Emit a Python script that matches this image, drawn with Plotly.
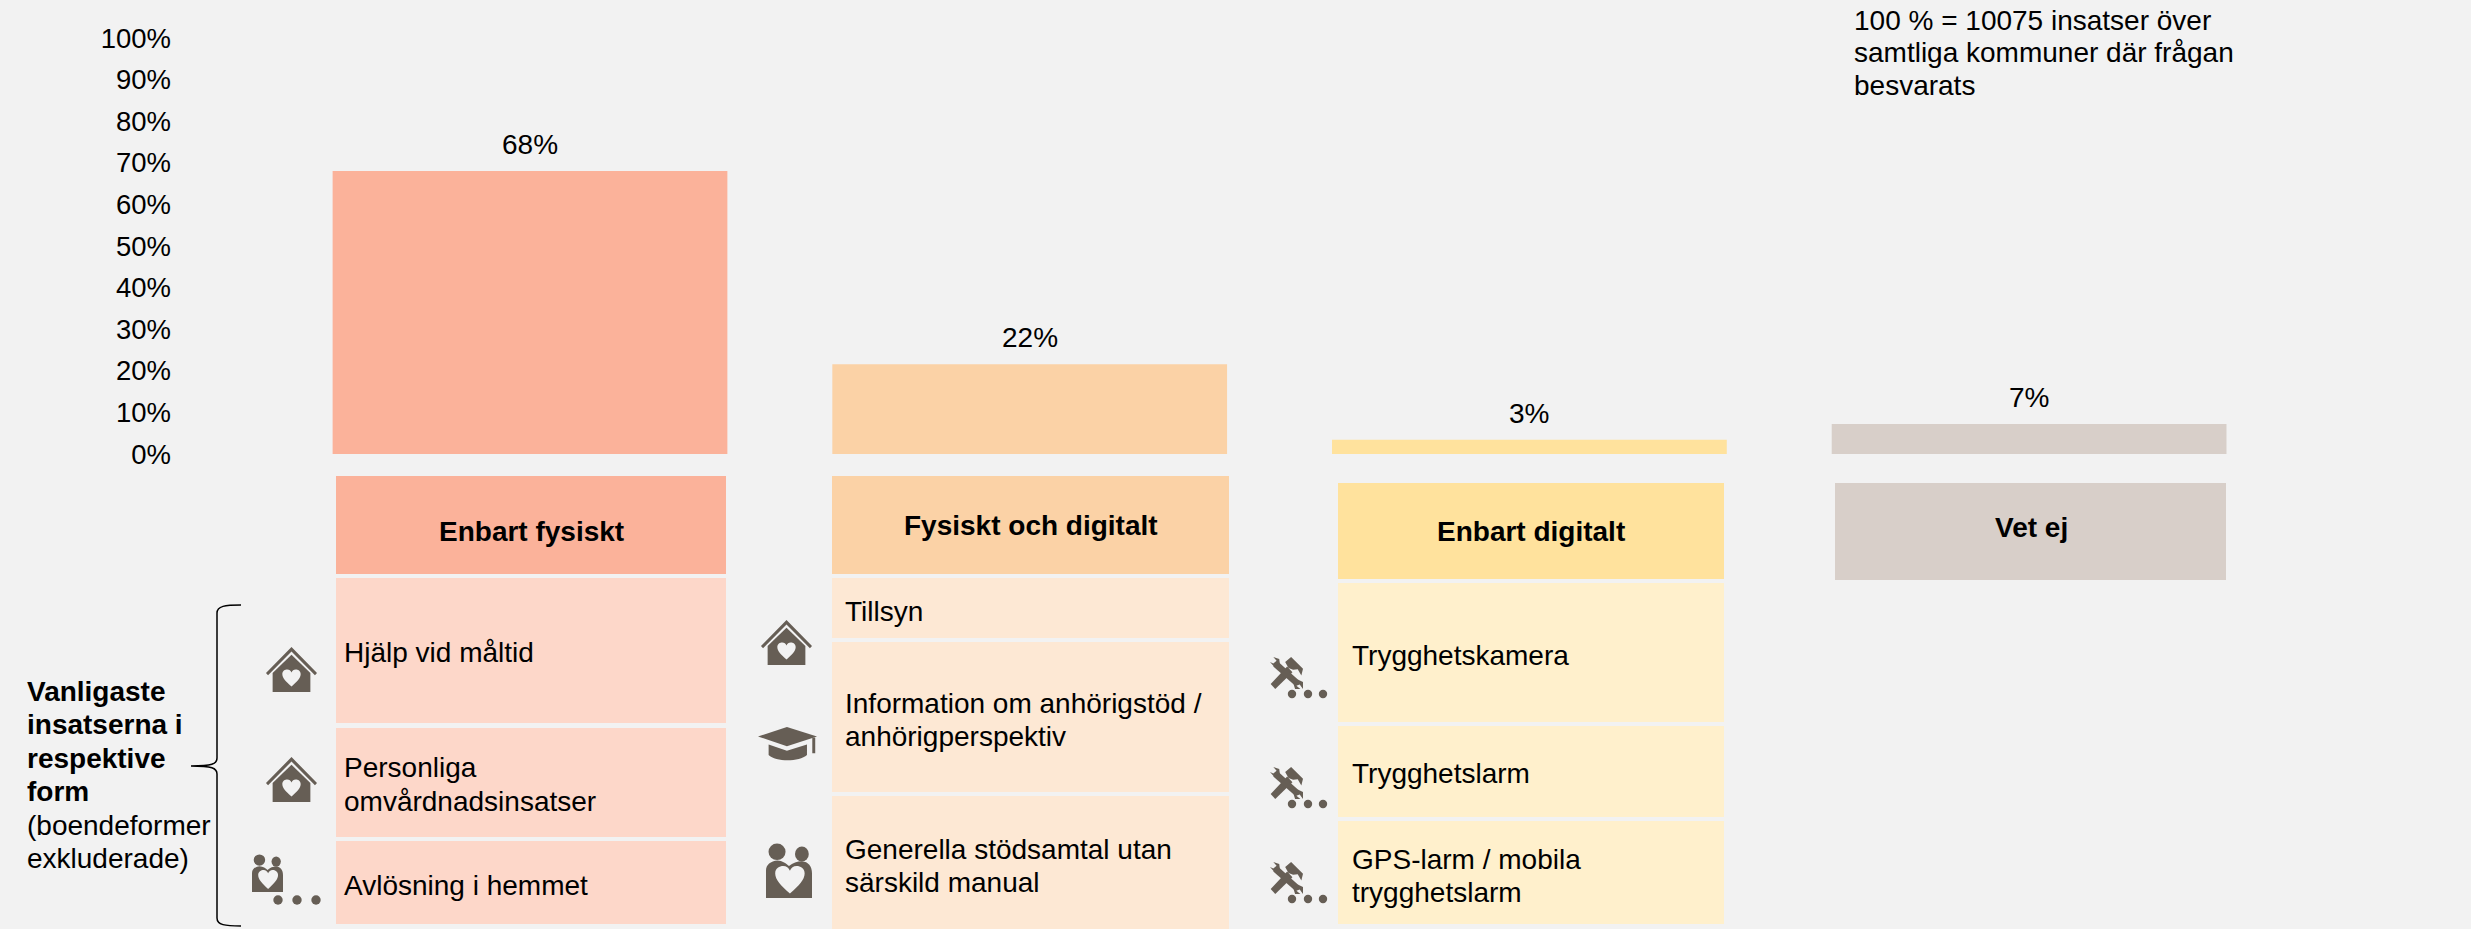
import re
import plotly.graph_objects as go

# ---------- data ----------
CATEGORIES = ["Enbart fysiskt", "Fysiskt och digitalt", "Enbart digitalt", "Vet ej"]
VALUES = [68.0, 21.6, 3.4, 7.2]
Y_TICKS = list(range(0, 101, 10))
Y_TICK_LABELS = [f"{v}%" for v in Y_TICKS]
BAR_COLORS = ["#FBB29A", "#FBD2A6", "#FFE29D", "#D8CFC9"]
CELL_COLORS = ["#FDD7C9", "#FDE8D4", "#FFF0CC"]
NOTE_LINES = ["100 % = 10075 insatser över", "samtliga kommuner där frågan", "besvarats"]
SIDE_BOLD = ["Vanligaste", "insatserna i", "respektive", "form"]
SIDE_PLAIN = ["(boendeformer", "exkluderade)"]
COL1_ITEMS = [["Hjälp vid måltid"], ["Personliga", "omvårdnadsinsatser"], ["Avlösning i hemmet"]]
COL2_ITEMS = [["Tillsyn"], ["Information om anhörigstöd /", "anhörigperspektiv"],
              ["Generella stödsamtal utan", "särskild manual"]]
COL3_ITEMS = [["Trygghetskamera"], ["Trygghetslarm"], ["GPS-larm / mobila", "trygghetslarm"]]

# ---------- layout helpers (pixel geometry of the slide) ----------
W, H = 2471, 929
LEFT = 172
BG = "#F2F2F2"
ICON = "#665E55"
FONT = "Liberation Sans"
FS = 28
LINE = 33.6


def px(x):
    return (x - LEFT) / (W - LEFT)


def py(y):
    return 1 - y / H


shapes = []
annotations = []


def rect(x0, y0, x1, y1, color):
    shapes.append(dict(type="rect", xref="paper", yref="paper", x0=px(x0), x1=px(x1),
                       y0=py(y1), y1=py(y0), fillcolor=color, line_width=0, layer="below"))


def text(x, y, s, bold=False, anchor="left", size=FS):
    annotations.append(dict(xref="paper", yref="paper", x=px(x), y=py(y), showarrow=False,
                            text=f"<b>{s}</b>" if bold else s, xanchor=anchor, yanchor="middle",
                            font=dict(family=FONT, size=size, color="#000000"),
                            borderpad=0, xshift=0))


def path(d, x0=0, y0=0, x1=1, y1=1, color=ICON):
    toks = re.findall(r"[MLCZ]|-?\d*\.?\d+", d)
    out, isx = [], True
    for t in toks:
        if t in "MLCZ":
            out.append(t)
            isx = True
        else:
            v = float(t)
            if isx:
                out.append(f"{px(x0 + v * (x1 - x0)):.6f},")
            else:
                out.append(f"{py(y0 + v * (y1 - y0)):.6f}")
            isx = not isx
    shapes.append(dict(type="path", xref="paper", yref="paper", path=" ".join(out), layer="above",
                       fillcolor=color, line_width=0))


def ellipse(cx, cy, rx, ry, color=ICON):
    shapes.append(dict(type="circle", xref="paper", yref="paper", x0=px(cx - rx), x1=px(cx + rx),
                       y0=py(cy + ry), y1=py(cy - ry), fillcolor=color, line_width=0, layer="above"))


HEART = ("M .5 1 C .2 .72 0 .5 0 .27 C 0 .08 .15 0 .27 0 C .38 0 .46 .07 .5 .17 "
         "C .54 .07 .62 0 .73 0 C .85 0 1 .08 1 .27 C 1 .5 .8 .72 .5 1 Z")


def house(x0, y0):
    w, h = 51, 45
    path("M .5 0 L 1 .58 L .96 .63 L .5 .1 L .04 .63 L 0 .58 Z", x0, y0, x0 + w, y0 + h)
    path("M .13 1 L .13 .58 L .5 .17 L .87 .58 L .87 1 Z", x0, y0, x0 + w, y0 + h)
    path(HEART, x0 + w * .32, y0 + h * .5, x0 + w * .68, y0 + h * .88, BG)


def people(x0, y0, x1, y1):
    w, h = x1 - x0, y1 - y0
    ellipse(x0 + .24 * w, y0 + .16 * h, .185 * w, .15 * h)
    ellipse(x0 + .78 * w, y0 + .2 * h, .15 * w, .135 * h)
    path("M 0 1 L 0 .5 C 0 .4 .1 .33 .25 .32 C .35 .32 .45 .38 .5 .42 C .58 .36 .68 .33 .78 .33 "
         "C .92 .34 1 .42 1 .55 L 1 1 Z", x0, y0, x1, y1)
    path(HEART, x0 + .2 * w, y0 + .42 * h, x0 + .84 * w, y0 + .92 * h, BG)


def cap(x0, y0, x1, y1):
    path("M 0 .27 L .49 0 L 1 .27 L .49 .55 Z", x0, y0, x1, y1)
    path("M .18 .5 L .49 .68 L .83 .5 L .83 .8 C .7 1 .3 1 .18 .8 Z", x0, y0, x1, y1)
    path("M .92 .3 L .97 .3 L .97 .75 L .92 .75 Z", x0, y0, x1, y1)


def tool(x0, y0):
    x1, y1 = x0 + 33, y0 + 32
    # hammer handle and head
    path("M .02 .84 L .16 1 L .68 .48 L .52 .3 Z", x0, y0, x1, y1)
    path("M .46 .16 L .64 0 L 1 .37 L .95 .58 L .84 .38 L .7 .4 L .56 .34 Z", x0, y0, x1, y1)
    # wrench handle and jaws
    path("M .24 .14 L .86 .72 L .72 .86 L .1 .3 Z", x0, y0, x1, y1)
    path("M 0 .16 L .12 .3 L .3 .22 L .28 .06 L .1 0 L .2 .12 L .1 .2 Z", x0, y0, x1, y1)
    path("M .7 .8 L .84 .7 L 1 .78 L 1 1 L .9 .86 L .8 .9 L .92 1 L .76 1 Z", x0, y0, x1, y1)


def dots(xs, y, r):
    for x in xs:
        ellipse(x, y, r, r)


def cell_lines(x, lines, ys):
    for s, y in zip(lines, ys):
        text(x, y, s)


# ---------- header boxes ----------
rect(336, 476, 726, 574, BAR_COLORS[0])
rect(832, 476, 1229, 574, BAR_COLORS[1])
rect(1338, 483, 1724, 579, BAR_COLORS[2])
rect(1835, 483, 2226, 580, BAR_COLORS[3])
text(531, 531, CATEGORIES[0], True, "center")
text(1031, 525, CATEGORIES[1], True, "center")
text(1531, 531, CATEGORIES[2], True, "center")
text(2031, 527, CATEGORIES[3], True, "center")

# ---------- table cells ----------
for y0, y1 in [(578, 723), (728, 837), (841, 924)]:
    rect(336, y0, 726, y1, CELL_COLORS[0])
for y0, y1 in [(578, 638), (642, 792), (796, 929)]:
    rect(832, y0, 1229, y1, CELL_COLORS[1])
for y0, y1 in [(583, 722), (726, 817), (821, 924)]:
    rect(1338, y0, 1724, y1, CELL_COLORS[2])

cell_lines(343, COL1_ITEMS[0], [652])
cell_lines(343, COL1_ITEMS[1], [767, 801])
cell_lines(343, COL1_ITEMS[2], [885])
cell_lines(844, COL2_ITEMS[0], [611])
cell_lines(844, COL2_ITEMS[1], [703, 736])
cell_lines(844, COL2_ITEMS[2], [849, 882])
cell_lines(1351, COL3_ITEMS[0], [655])
cell_lines(1351, COL3_ITEMS[1], [773])
cell_lines(1351, COL3_ITEMS[2], [859, 892])

# ---------- side text, note, brace ----------
for i, s in enumerate(SIDE_BOLD):
    text(26, 691 + i * LINE, s, True)
for i, s in enumerate(SIDE_PLAIN):
    text(26, 825 + i * LINE, s)
for i, s in enumerate(NOTE_LINES):
    text(1852.5, 20 + i * 33, s)

shapes.append(dict(type="path", xref="paper", yref="paper", layer="above",
                   line=dict(color="#000000", width=1.5),
                   path=(f"M {px(241)},{py(605)} C {px(225)},{py(605)} {px(217)},{py(606)} {px(217)},{py(613)} "
                         f"L {px(217)},{py(758)} C {px(217)},{py(764)} {px(212)},{py(766)} {px(191)},{py(766)} "
                         f"C {px(212)},{py(766)} {px(217)},{py(768)} {px(217)},{py(774)} "
                         f"L {px(217)},{py(918)} C {px(217)},{py(925)} {px(225)},{py(926)} {px(241)},{py(926)}")))

# ---------- icons ----------
house(266, 647)
house(266, 757)
people(252, 854, 283, 892)
dots([278, 297, 316], 900, 4.7)
house(761, 620)
cap(758, 727, 817, 762)
people(766, 843, 812, 898)
for ty in (657, 767, 862):
    tool(1270, ty)
    dots([1292, 1308, 1323], ty + 37, 4.2)

# ---------- value labels ----------
for c, v in zip(CATEGORIES, VALUES):
    annotations.append(dict(xref="x", yref="y", x=c, y=v, text=f"{round(v)}%", showarrow=False,
                            yanchor="middle", yshift=26.5,
                            font=dict(family=FONT, size=FS, color="#000000")))

# ---------- figure ----------
fig = go.Figure(go.Bar(x=CATEGORIES, y=VALUES, marker=dict(color=BAR_COLORS, line_width=0),
                       width=0.79, hoverinfo="skip"))
fig.update_layout(
    width=W, height=H, autosize=False, showlegend=False,
    margin=dict(l=LEFT, r=0, t=0, b=0),
    paper_bgcolor=BG, plot_bgcolor=BG,
    shapes=shapes, annotations=annotations,
    xaxis=dict(type="category", categoryorder="array", categoryarray=CATEGORIES,
               range=[(LEFT - 530) / 499.7, (W - 530) / 499.7],
               showticklabels=False, showgrid=False, zeroline=False, showline=False, ticks=""),
    yaxis=dict(range=[(454 - H) / 4.16, 454 / 4.16], tickmode="array", tickvals=Y_TICKS,
               ticktext=Y_TICK_LABELS, showgrid=False, zeroline=False, showline=False, ticks="",
               tickfont=dict(family=FONT, size=27.5, color="#000000")),
)
fig.write_html("out.html", config=dict(displayModeBar=False),
               post_script="document.documentElement.style.background='#F2F2F2';"
                           "document.body.style.margin='0';document.body.style.overflow='hidden';")
